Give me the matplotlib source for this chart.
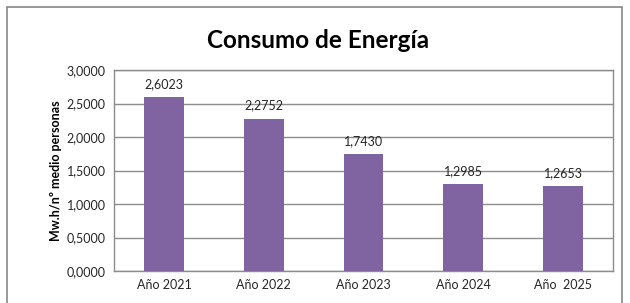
import matplotlib.pyplot as plt
from matplotlib.patches import Rectangle

# data
years = ['Año 2021', 'Año 2022', 'Año 2023', 'Año 2024', 'Año  2025']
consumo = [2.6023, 2.2752, 1.7430, 1.2985, 1.2653]
y_ticks = [0.0, 0.5, 1.0, 1.5, 2.0, 2.5, 3.0]

plt.rcParams['font.family'] = ['Lato', 'DejaVu Sans']


def coma(v, decimals=4):
    return f'{v:.{decimals}f}'.replace('.', ',')


fig = plt.figure(figsize=(6.3, 3.03), dpi=100)
fig.patches.append(Rectangle((7 / 630, -0.05), 615 / 630, 1 - 7 / 303 + 0.05,
                             transform=fig.transFigure, fill=False,
                             edgecolor='#868686', linewidth=1.2))

ax = fig.add_axes([114 / 630, 1 - 271 / 303, 499 / 630, 201 / 303])
x = range(len(years))
bars = ax.bar(x, consumo, width=0.4, color='#8064A2', zorder=3)
for b, v in zip(bars, consumo):
    ax.annotate(coma(v), (b.get_x() + b.get_width() / 2, v),
                xytext=(0, 5), textcoords='offset points',
                ha='center', va='bottom', fontsize=9, color='#262626')

ax.set_xlim(-0.5, len(years) - 0.5)
ax.set_ylim(0, 3)
ax.set_yticks(y_ticks)
ax.set_yticklabels([coma(t) for t in y_ticks])
ax.set_xticks(list(x))
ax.set_xticklabels(years)
ax.tick_params(axis='both', length=0, labelsize=9, colors='#262626', pad=6)
ax.grid(axis='y', color='#8c8c8c', linewidth=1, zorder=0)
for s in ax.spines.values():
    s.set_color('#8c8c8c')
    s.set_linewidth(1)
ax.set_ylabel('Mw.h/nº medio personas', fontsize=9, fontweight='bold', labelpad=3)

fig.text(318 / 630, 1 - 40 / 303, 'Consumo de Energía', ha='center', va='center',
         fontsize=17.5, fontweight='bold', color='black')

fig.savefig('out.png', dpi=100)
